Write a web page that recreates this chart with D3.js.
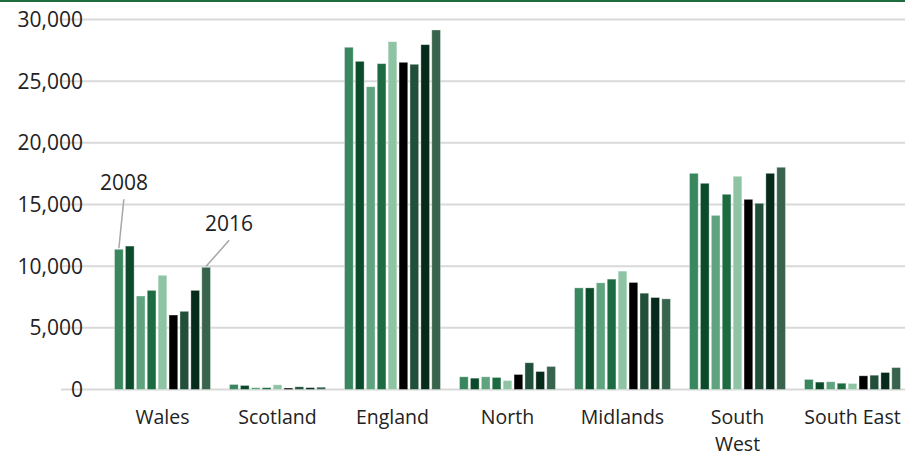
<!DOCTYPE html>
<html lang="en">
<head>
	<meta charset="UTF-8">
	<title>Regions by year</title>
	<style>
		body { margin: 0; background: #fff; }
		text { font-family: "Open Sans", "Noto Sans", sans-serif; fill: #222; }
	</style>
	<script src="https://d3js.org/d3.v7.min.js"></script>
</head>
<body>
	<script type="text/javascript">
		const width = 905
		const height = 457

// data
		const regions = ["Wales", "Scotland", "England", "North", "Midlands", "South West", "South East"]
		const years = ["2008", "2009", "2010", "2011", "2012", "2013", "2014", "2015", "2016"]
		const wales = [11370, 11630, 7580, 8040, 9260, 6040, 6340, 8040, 9910]
		const scotland = [410, 330, 150, 150, 380, 120, 220, 150, 190]
		const england = [27750, 26610, 24550, 26420, 28200, 26530, 26370, 27960, 29150]
		const north = [1030, 920, 1030, 980, 730, 1220, 2170, 1460, 1870]
		const midlands = [8240, 8240, 8650, 8950, 9600, 8680, 7810, 7460, 7350]
		const southWest = [17530, 16720, 14120, 15830, 17290, 15420, 15100, 17530, 18020]
		const southEast = [820, 600, 630, 510, 490, 1110, 1160, 1380, 1780]
		const yTicks = [0, 5000, 10000, 15000, 20000, 25000, 30000]
		const yearColors = ["#3a875f", "#0b4a2a", "#5fa47f", "#1d6b40", "#8ec3a3", "#000000", "#214f39", "#062b1a", "#38644d"]

		const series = [wales, scotland, england, north, midlands, southWest, southEast]
		const table = regions.map((r, i) => ({
			region: r,
			values: years.map((y, j) => ({ year: y, value: series[i][j] }))
		}))

		const svg = d3.select("body").append("svg")
			.attr("width", width)
			.attr("height", height)

//top green rule
		svg.append("rect")
			.attr("x", 0).attr("y", 0)
			.attr("width", width).attr("height", 2)
			.style("fill", "#1e6b3d")

//scales
		const y = d3.scaleLinear().domain([0, 30000]).range([389.5, 19.5])
		const x0 = d3.scaleBand().domain(regions).range([105, 910]).paddingInner(0.165).paddingOuter(0.0825)
		const x1 = d3.scaleBand().domain(years).range([0, x0.bandwidth()]).paddingInner(0.2)
		const color = d3.scaleOrdinal().domain(years).range(yearColors)

//gridlines
		svg.selectAll(".grid")
			.data(yTicks)
			.join("line")
			.attr("class", "grid")
			.attr("x1", 61).attr("x2", width)
			.attr("y1", d => y(d)).attr("y2", d => y(d))
			.style("stroke", "#d9d9d9")
			.style("stroke-width", 2)

//y labels
		svg.selectAll(".ylabel")
			.data(yTicks)
			.join("text")
			.attr("class", "ylabel")
			.attr("x", 83)
			.attr("y", d => y(d))
			.attr("dy", "0.35em")
			.attr("text-anchor", "end")
			.style("font-size", "21px")
			.text(d => d3.format(",")(d))

//bars
		const groups = svg.selectAll(".group")
			.data(table)
			.join("g")
			.attr("class", "group")
			.attr("transform", d => "translate(" + x0(d.region) + ",0)")

		groups.selectAll("rect")
			.data(d => d.values)
			.join("rect")
			.attr("x", d => x1(d.year))
			.attr("y", d => y(d.value))
			.attr("width", x1.bandwidth())
			.attr("height", d => y(0) - y(d.value))
			.style("fill", d => color(d.year))
			.style("stroke", "#ffffff")
			.style("stroke-opacity", 0.45)
			.style("stroke-width", 0.8)

//x labels, South West wraps onto two lines
		const labelLines = regions.flatMap(r => {
			const words = r === "South West" ? ["South", "West"] : [r]
			return words.map((w, i) => ({ region: r, text: w, line: i }))
		})
		svg.selectAll(".xlabel")
			.data(labelLines)
			.join("text")
			.attr("class", "xlabel")
			.attr("x", d => x0(d.region) + x0.bandwidth() / 2)
			.attr("y", d => 424 + d.line * 27)
			.attr("text-anchor", "middle")
			.style("font-size", "19.5px")
			.text(d => d.text)

//year callouts on Wales
		const callouts = [
			{ year: "2008", dx: 5, dy: -49, tx: 124, ty: 190 },
			{ year: "2016", dx: 23, dy: -26, tx: 229, ty: 231 }
		]
		callouts.forEach(c => {
			const bx = x0("Wales") + x1(c.year) + x1.bandwidth() / 2
			const by = y(wales[years.indexOf(c.year)]) - 1
			svg.append("line")
				.attr("x1", bx).attr("y1", by)
				.attr("x2", bx + c.dx).attr("y2", by + c.dy)
				.style("stroke", "#a6a6a6")
				.style("stroke-width", 1.5)
			svg.append("text")
				.attr("x", c.tx).attr("y", c.ty)
				.attr("text-anchor", "middle")
				.style("font-size", "21px")
				.text(c.year)
		})
	</script>
</body>
</html>
